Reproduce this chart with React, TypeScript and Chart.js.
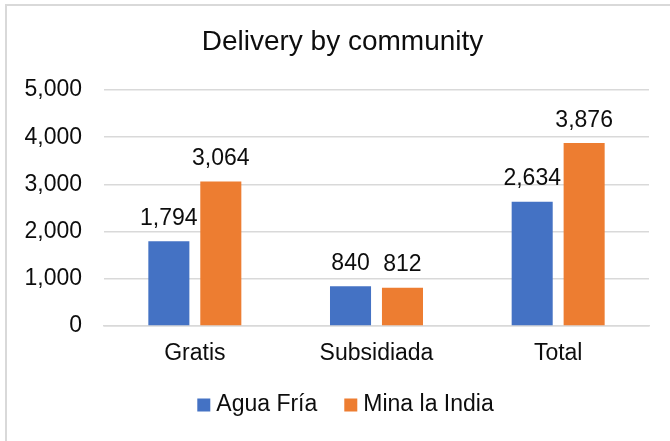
import React, { useEffect, useRef } from "react";
import { Chart, registerables } from "chart.js";

Chart.register(...registerables);

const categories = ["Gratis", "Subsidiada", "Total"];
const seriesNames = ["Agua Fría", "Mina la India"];
const aguaFria = [1794, 840, 2634];
const minaLaIndia = [3064, 812, 3876];
const seriesColors = ["#4472C4", "#ED7D31"];
const yTicks = [0, 1000, 2000, 3000, 4000, 5000];
const titleText = "Delivery by community";

const FONT = "'Liberation Sans', Arial, Helvetica, sans-serif";
const TEXT = "#0d0d0d";
const fmt = (v: number) => v.toLocaleString("en-US");

const valueLabels = {
  id: "valueLabels",
  afterDatasetsDraw(chart: any) {
    const ctx = chart.ctx;
    ctx.save();
    ctx.font = `23px ${FONT}`;
    ctx.fillStyle = TEXT;
    ctx.textAlign = "center";
    ctx.textBaseline = "alphabetic";
    chart.data.datasets.forEach((ds: any, i: number) => {
      const meta = chart.getDatasetMeta(i);
      meta.data.forEach((el: any, j: number) => {
        ctx.fillText(fmt(ds.data[j]), el.x, el.y - 16.5);
      });
    });
    ctx.restore();
  },
};

const titleAndLegend = {
  id: "titleAndLegend",
  afterDraw(chart: any) {
    const ctx = chart.ctx;
    ctx.save();
    // title
    ctx.font = `28px ${FONT}`;
    ctx.fillStyle = TEXT;
    ctx.textAlign = "center";
    ctx.textBaseline = "middle";
    ctx.fillText(titleText, 342.5, 42);
    // legend
    ctx.font = `23px ${FONT}`;
    const box = 13;
    const gap = 6;
    const itemGap = 27;
    const widths = chart.data.datasets.map((d: any) => ctx.measureText(d.label).width);
    let total = 0;
    widths.forEach((w: number, i: number) => {
      total += box + gap + w + (i > 0 ? itemGap : 0);
    });
    let x = 345.5 - total / 2;
    const cy = 405;
    chart.data.datasets.forEach((d: any, i: number) => {
      ctx.fillStyle = d.backgroundColor;
      ctx.fillRect(x, cy - box / 2, box, box);
      x += box + gap;
      ctx.fillStyle = TEXT;
      ctx.textAlign = "left";
      ctx.textBaseline = "middle";
      ctx.fillText(d.label, x, cy);
      x += widths[i] + itemGap;
    });
    ctx.restore();
  },
};

export default function App() {
  const ref = useRef<HTMLCanvasElement | null>(null);

  useEffect(() => {
    if (!ref.current) return;
    const chart = new Chart(ref.current, {
      type: "bar",
      data: {
        labels: categories,
        datasets: [
          {
            label: seriesNames[0],
            data: aguaFria,
            backgroundColor: seriesColors[0],
            categoryPercentage: 0.572,
            barPercentage: 0.79,
          },
          {
            label: seriesNames[1],
            data: minaLaIndia,
            backgroundColor: seriesColors[1],
            categoryPercentage: 0.572,
            barPercentage: 0.79,
          },
        ],
      },
      options: {
        animation: false,
        responsive: false,
        maintainAspectRatio: false,
        layout: { padding: { left: 0, right: 21, top: 90, bottom: 0 } },
        plugins: {
          legend: { display: false },
          tooltip: { enabled: false },
          title: { display: false },
        },
        scales: {
          x: {
            grid: { display: false, drawTicks: false },
            border: { display: true, color: "#d9d9d9", width: 1.5 },
            ticks: {
              color: TEXT,
              font: { family: FONT, size: 23 },
              padding: 14,
              maxRotation: 0,
            },
            afterFit(scale: any) {
              scale.height = 115;
            },
          },
          y: {
            min: 0,
            max: 5000,
            afterBuildTicks(scale: any) {
              scale.ticks = yTicks.map((v) => ({ value: v }));
            },
            grid: { color: "#d9d9d9", lineWidth: 1.5, drawTicks: false },
            border: { display: false },
            ticks: {
              color: TEXT,
              font: { family: FONT, size: 23 },
              padding: 22,
              callback: (v: any) => fmt(Number(v)),
            },
            afterFit(scale: any) {
              scale.width = 104;
            },
          },
        },
      },
      plugins: [valueLabels, titleAndLegend],
    });
    return () => chart.destroy();
  }, []);

  return (
    <div
      style={{
        position: "fixed",
        left: 0,
        top: 0,
        width: 670,
        height: 441,
        background: "#fff",
        overflow: "hidden",
      }}
    >
      <div
        style={{
          position: "absolute",
          left: 5,
          top: 4,
          width: 720,
          height: 520,
          border: "2px solid #d9d9d9",
          boxSizing: "border-box",
        }}
      />
      <canvas
        ref={ref}
        width={670}
        height={441}
        style={{ position: "absolute", left: 0, top: 0, width: 670, height: 441 }}
      />
    </div>
  );
}
